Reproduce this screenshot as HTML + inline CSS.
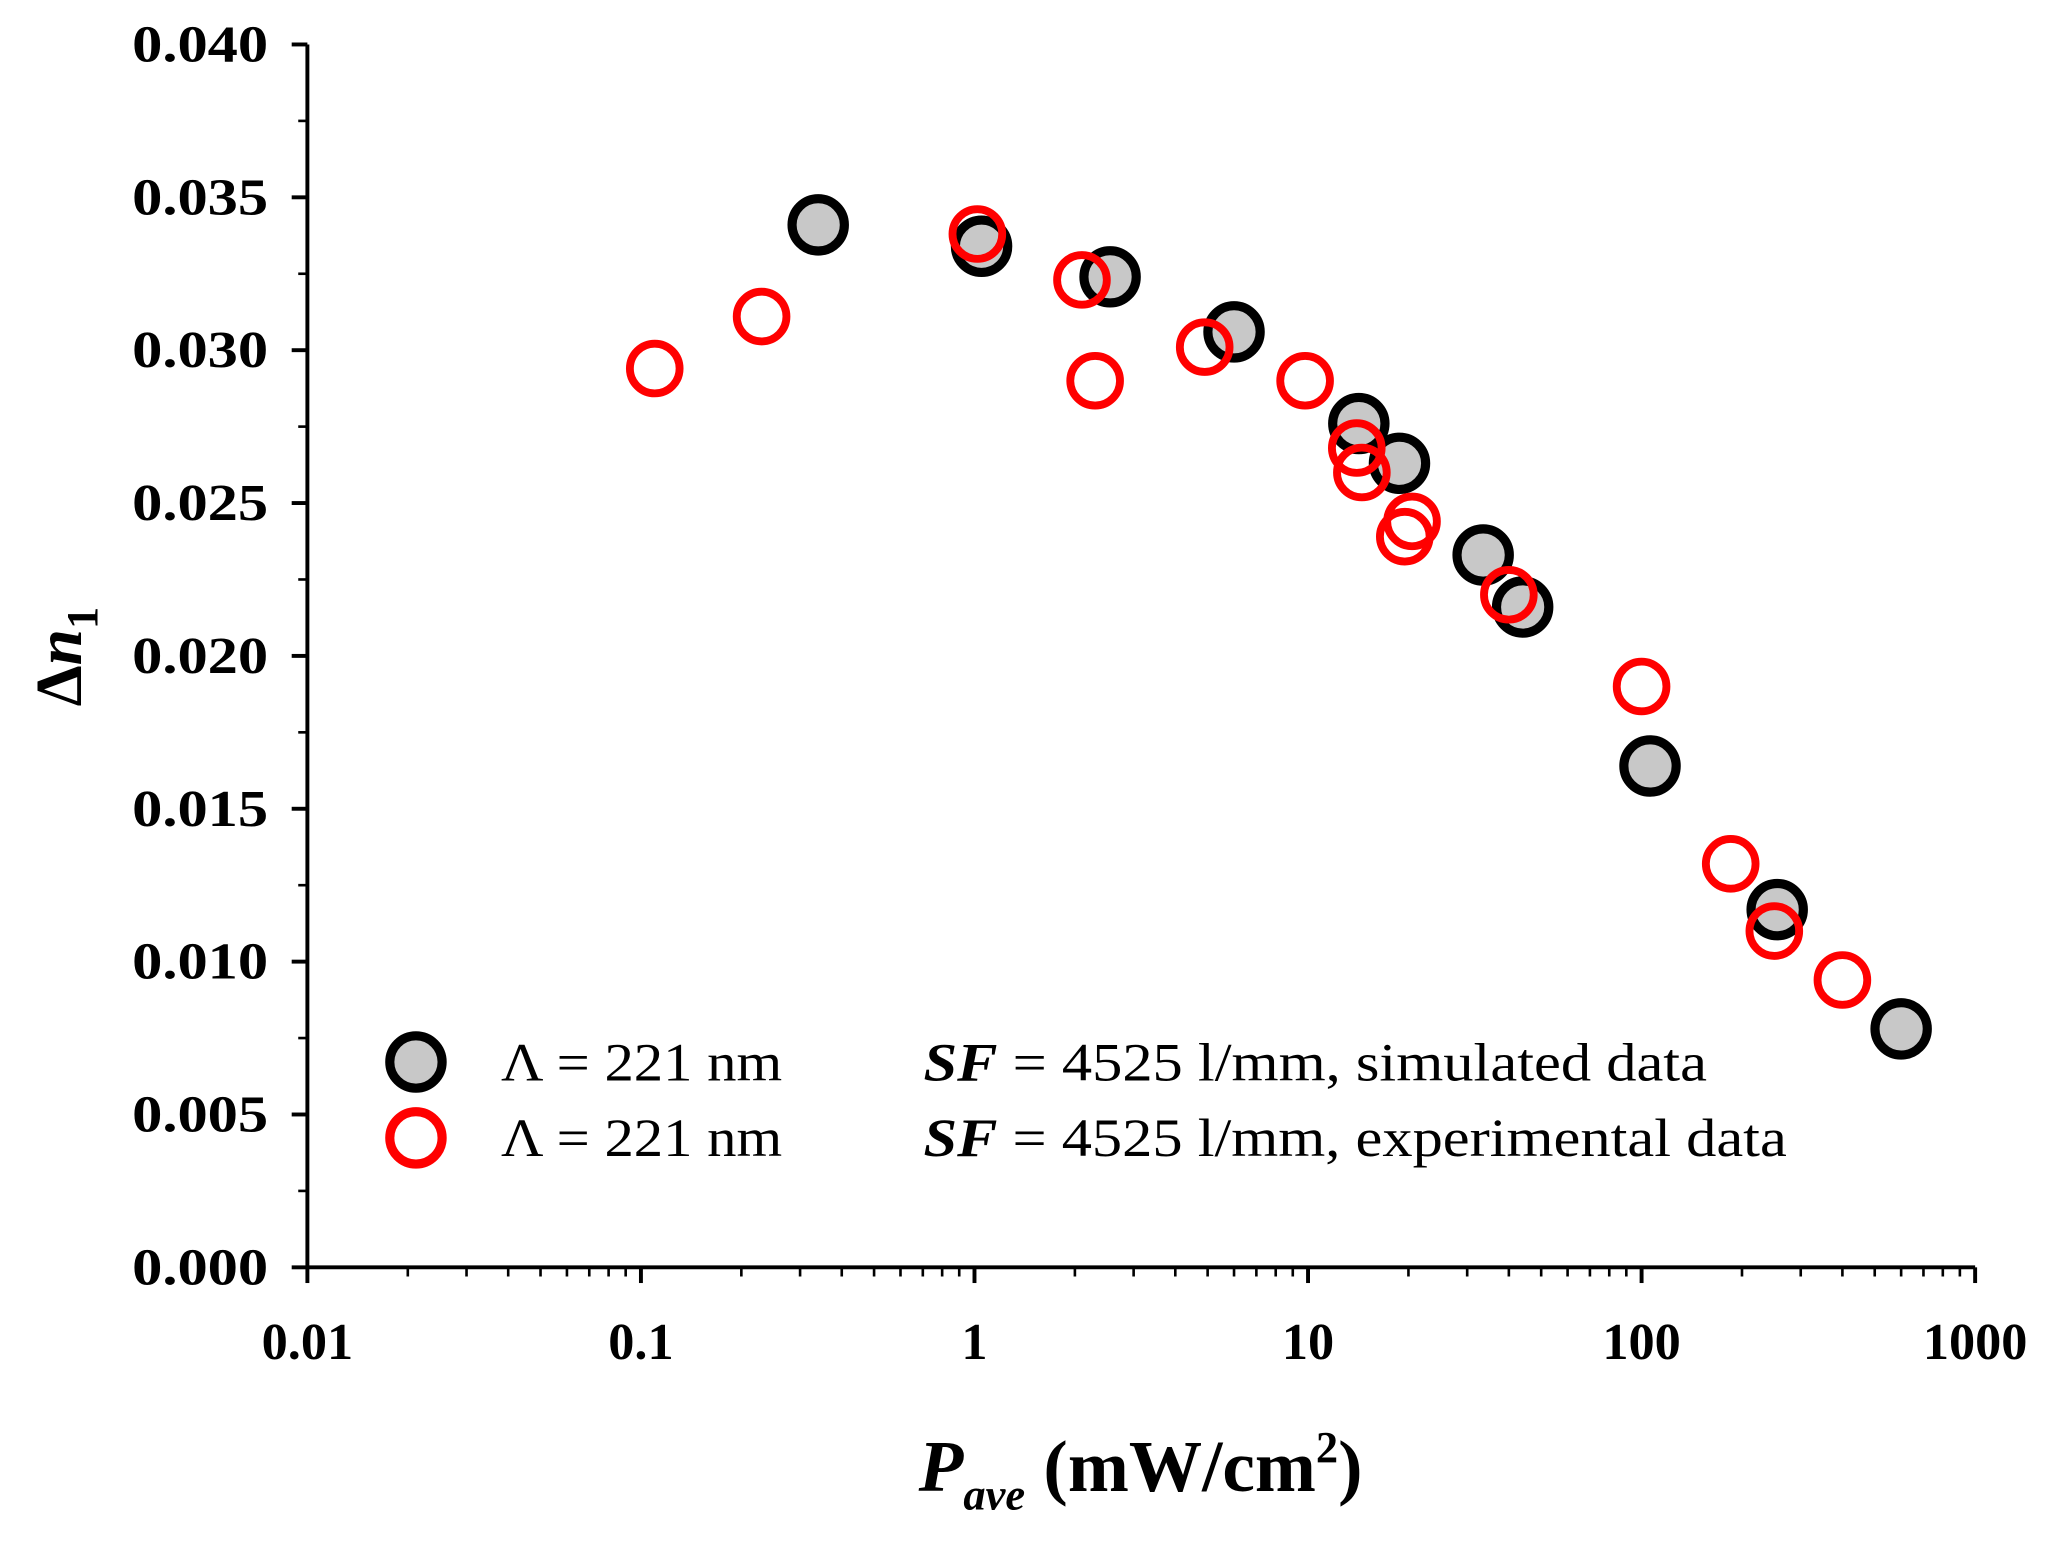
<!DOCTYPE html>
<html><head><meta charset="utf-8"><style>
html,body{margin:0;padding:0;background:#fff;}
svg{display:block;font-family:"Liberation Serif",serif;}
</style></head><body>
<svg id="chart" width="2051" height="1542" viewBox="0 0 1568 1179" preserveAspectRatio="none">
<g id="axes"></g>
<g id="marks"></g>
<g font-size="41">
  <circle cx="318" cy="812" r="20" fill="#c8c8c8" stroke="#000" stroke-width="7"/>
  <text x="383" y="826" textLength="215" lengthAdjust="spacingAndGlyphs">Λ = 221 nm</text>
  <text x="706" y="826" textLength="599" lengthAdjust="spacingAndGlyphs"><tspan font-weight="bold" font-style="italic">SF</tspan> = 4525 l/mm, simulated data</text>
  <circle cx="318" cy="870" r="20" fill="#fff" stroke="#f00" stroke-width="7"/>
  <text x="383" y="884" textLength="215" lengthAdjust="spacingAndGlyphs">Λ = 221 nm</text>
  <text x="706" y="884" textLength="660" lengthAdjust="spacingAndGlyphs"><tspan font-weight="bold" font-style="italic">SF</tspan> = 4525 l/mm, experimental data</text>
</g>
<text x="872" y="1140" text-anchor="middle" font-size="56" font-weight="bold"><tspan font-style="italic">P</tspan><tspan font-style="italic" font-size="34" dy="14">ave</tspan><tspan dy="-14"> (mW/cm</tspan><tspan font-size="34" dy="-22">2</tspan><tspan dy="22">)</tspan></text>
<text transform="translate(62,502) rotate(-90)" text-anchor="middle" font-size="50" font-weight="bold">Δ<tspan font-style="italic">n</tspan><tspan font-size="34" dy="12">1</tspan></text>
</svg>
<script>
const xTicks=[0.01,0.1,1,10,100,1000];
const xTickLabels=["0.01","0.1","1","10","100","1000"];
const yTicks=[0,0.005,0.01,0.015,0.02,0.025,0.03,0.035,0.04];
const yTickLabels=["0.000","0.005","0.010","0.015","0.020","0.025","0.030","0.035","0.040"];
const simX=[0.34,1.05,2.55,6.0,14.2,18.8,33.5,44,106,255,600];
const simY=[0.0341,0.0334,0.0324,0.0306,0.0276,0.0263,0.0233,0.0216,0.0164,0.0117,0.0078];
const expX=[0.11,0.23,1.02,2.1,2.3,4.9,9.8,14,14.5,19.5,20.5,40,100,185,250,400];
const expY=[0.0294,0.0311,0.0338,0.0323,0.0290,0.0301,0.0290,0.0268,0.0260,0.0239,0.0244,0.0220,0.0190,0.0132,0.0110,0.0094];
const NS="http://www.w3.org/2000/svg";
const X0=235,X1=1510,Y0=969,Y1=34;
function sx(v){return X0+(Math.log10(v)+2)/5*(X1-X0);}
function sy(v){return Y0-v/0.04*(Y0-Y1);}
function mk(t,a,p){const e=document.createElementNS(NS,t);for(const k in a)e.setAttribute(k,a[k]);p.appendChild(e);return e;}
const ax=document.getElementById('axes'),mg=document.getElementById('marks');
let l=mk('line',{x1:X0,y1:Y0,x2:X1,y2:Y0,stroke:'#000','stroke-width':3},ax);


l=mk('line',{x1:X0,y1:Y0,x2:X0,y2:Y1,stroke:'#000','stroke-width':3},ax);


yTicks.forEach((v,i)=>{
  mk('line',{x1:X0-12,y1:sy(v),x2:X0,y2:sy(v),stroke:'#000','stroke-width':3},ax);
  if(i<yTicks.length-1){const m=v+0.0025;mk('line',{x1:X0-7,y1:sy(m),x2:X0,y2:sy(m),stroke:'#000','stroke-width':2},ax);}
  const t=mk('text',{x:X0-30,y:sy(v)+13,'text-anchor':'end','font-size':40,'font-weight':'bold',textLength:104,lengthAdjust:'spacingAndGlyphs'},ax);
  t.textContent=yTickLabels[i];
  
  
});
xTicks.forEach((v,i)=>{
  mk('line',{x1:sx(v),y1:Y0,x2:sx(v),y2:Y0+12,stroke:'#000','stroke-width':3},ax);
  if(i<xTicks.length-1){for(let k=2;k<10;k++){const xx=sx(v*k);mk('line',{x1:xx,y1:Y0,x2:xx,y2:Y0+7,stroke:'#000','stroke-width':2},ax);}}
  const t=mk('text',{x:sx(v),y:Y0+70,'text-anchor':'middle','font-size':40,'font-weight':'bold'},ax);
  t.textContent=xTickLabels[i];
  
  
});
simX.forEach((v,i)=>{
  const c=mk('circle',{cx:sx(v),cy:sy(simY[i]),r:20,fill:'#c8c8c8',stroke:'#000','stroke-width':7},mg);
  
  
});
expX.forEach((v,i)=>{
  const c=mk('circle',{cx:sx(v),cy:sy(expY[i]),r:19,fill:'none',stroke:'#f00','stroke-width':6},mg);
  
  
});
</script>
</body></html>
